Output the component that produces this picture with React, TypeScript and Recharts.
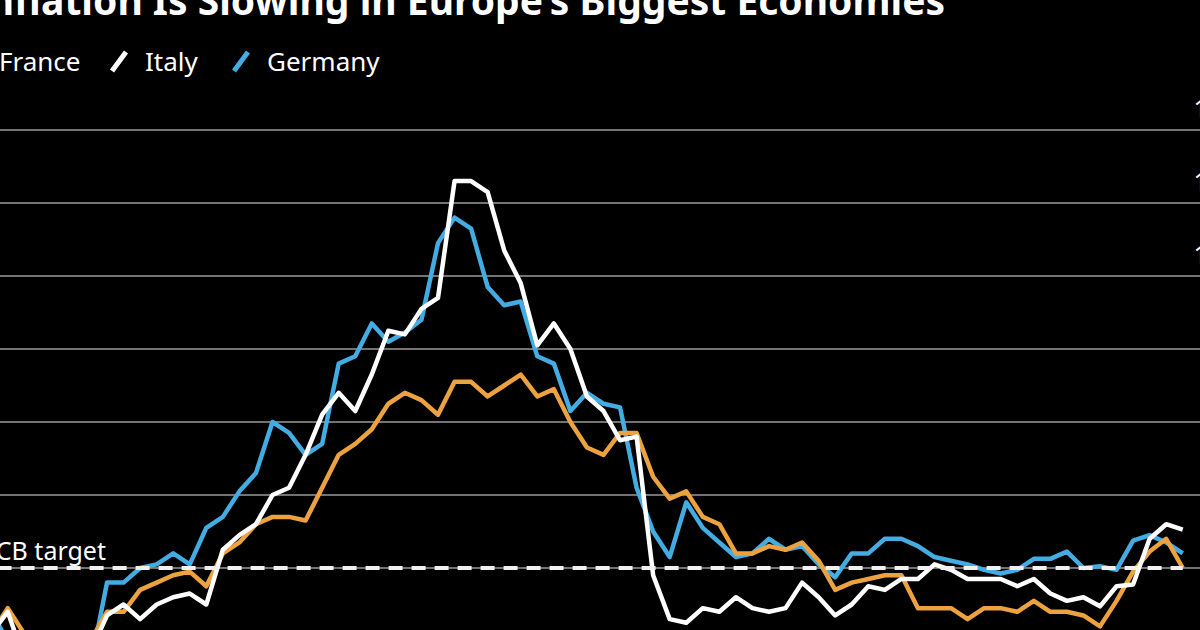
import React from 'react';
import { LineChart, Line, XAxis, YAxis, CartesianGrid, ReferenceLine } from 'recharts';

const months = [
  'Jun 2020', 'Jul 2020', 'Aug 2020', 'Sep 2020', 'Oct 2020', 'Nov 2020', 'Dec 2020',
  'Jan 2021', 'Feb 2021', 'Mar 2021', 'Apr 2021', 'May 2021', 'Jun 2021', 'Jul 2021', 'Aug 2021', 'Sep 2021', 'Oct 2021', 'Nov 2021', 'Dec 2021',
  'Jan 2022', 'Feb 2022', 'Mar 2022', 'Apr 2022', 'May 2022', 'Jun 2022', 'Jul 2022', 'Aug 2022', 'Sep 2022', 'Oct 2022', 'Nov 2022', 'Dec 2022',
  'Jan 2023', 'Feb 2023', 'Mar 2023', 'Apr 2023', 'May 2023', 'Jun 2023', 'Jul 2023', 'Aug 2023', 'Sep 2023', 'Oct 2023', 'Nov 2023', 'Dec 2023',
  'Jan 2024', 'Feb 2024', 'Mar 2024', 'Apr 2024', 'May 2024', 'Jun 2024', 'Jul 2024', 'Aug 2024', 'Sep 2024', 'Oct 2024', 'Nov 2024', 'Dec 2024',
  'Jan 2025', 'Feb 2025', 'Mar 2025', 'Apr 2025', 'May 2025', 'Jun 2025', 'Jul 2025', 'Aug 2025', 'Sep 2025', 'Oct 2025', 'Nov 2025', 'Dec 2025',
  'Jan 2026', 'Feb 2026', 'Mar 2026', 'Apr 2026', 'May 2026', 'Jun 2026',
];

const france = [
  0.2, 0.9, 0.2, 0.0, 0.1, 0.2, 0.0,
  0.8, 0.8, 1.4, 1.6, 1.8, 1.9, 1.5, 2.4, 2.7, 3.2, 3.4, 3.4,
  3.3, 4.2, 5.1, 5.4, 5.8, 6.5, 6.8, 6.6, 6.2, 7.1, 7.1, 6.7,
  7.0, 7.3, 6.7, 6.9, 6.0, 5.3, 5.1, 5.7, 5.7, 4.5, 3.9, 4.1,
  3.4, 3.2, 2.4, 2.4, 2.6, 2.5, 2.7, 2.2, 1.4, 1.6, 1.7, 1.8,
  1.8, 0.9, 0.9, 0.9, 0.6, 0.9, 0.9, 0.8, 1.1, 0.8, 0.8, 0.7,
  0.4, 1.1, 1.9, 2.45, 2.8, 2.0,
];

const italy = [
  0.2, 0.8, -0.5, -1.0, -0.6, -0.3, -0.3,
  0.7, 1.0, 0.6, 1.0, 1.2, 1.3, 1.0, 2.5, 2.9, 3.2, 4.0, 4.2,
  5.1, 6.2, 6.8, 6.3, 7.3, 8.5, 8.4, 9.1, 9.4, 12.6, 12.6, 12.3,
  10.7, 9.8, 8.1, 8.7, 8.0, 6.7, 6.3, 5.5, 5.6, 1.8, 0.6, 0.5,
  0.9, 0.8, 1.2, 0.9, 0.8, 0.9, 1.6, 1.2, 0.7, 1.0, 1.5, 1.4,
  1.7, 1.7, 2.1, 1.95, 1.7, 1.7, 1.7, 1.5, 1.7, 1.3, 1.1, 1.2,
  0.95, 1.5, 1.55, 2.8, 3.2, 3.05,
];

const germany = [
  0.8, 0.0, -0.1, -0.4, -0.5, -0.7, -0.7,
  1.6, 1.6, 2.0, 2.1, 2.4, 2.1, 3.1, 3.4, 4.1, 4.6, 6.0, 5.7,
  5.1, 5.4, 7.6, 7.8, 8.7, 8.2, 8.45, 8.8, 10.9, 11.6, 11.3, 9.7,
  9.2, 9.3, 7.8, 7.6, 6.3, 6.8, 6.5, 6.4, 4.2, 3.0, 2.3, 3.8,
  3.1, 2.7, 2.3, 2.4, 2.8, 2.5, 2.6, 2.1, 1.75, 2.4, 2.4, 2.8,
  2.8, 2.6, 2.3, 2.2, 2.1, 1.95, 1.85, 1.95, 2.25, 2.25, 2.45, 2.0,
  2.05, 1.95, 2.75, 2.9, 2.7, 2.4,
];

const yTicks = [0, 2, 4, 6, 8, 10, 12, 14];
const ecbTarget = 2;
const seriesNames = ['France', 'Italy', 'Germany'];
const seriesColors = ['#eca23f', '#ffffff', '#43ace2'];
const titleText = 'Inflation Is Slowing in Europe\u2019s Biggest Economies';
const ecbLabel = 'ECB target';

const data = months.map((m, i) => ({
  i,
  month: m,
  France: france[i],
  Italy: italy[i],
  Germany: germany[i],
}));

const FONT = '"Noto Sans", "Open Sans", Arial, sans-serif';
const CHART_LEFT = -60;
const LABEL_RIGHT = 1222; // screen x of right edge of y labels

const RightTick = (props: any) => {
  const { y, payload } = props;
  return (
    <text
      x={LABEL_RIGHT - CHART_LEFT}
      y={y - 12}
      textAnchor="end"
      fill="#ffffff"
      fontSize={25}
      fontFamily={FONT}
    >
      {payload.value}
    </text>
  );
};

const legendX = [-1, 145, 267];

export default function App() {
  return (
    <div
      style={{
        position: 'fixed',
        left: 0,
        top: 0,
        width: 1200,
        height: 630,
        overflow: 'hidden',
        background: '#000000',
      }}
    >
      <div style={{ position: 'absolute', left: CHART_LEFT, top: 0 }}>
        <LineChart
          width={1335.85}
          height={720}
          data={data}
          margin={{ top: 130, right: 0, left: 34.6, bottom: 6 }}
        >
          <CartesianGrid vertical={false} stroke="#737373" strokeWidth={2} />
          <XAxis dataKey="i" type="number" domain={[-1, 74]} hide />
          <YAxis
            orientation="right"
            width={60}
            domain={[-2, 14]}
            ticks={yTicks}
            axisLine={false}
            tickLine={false}
            tick={<RightTick />}
            interval={0}
          />
          <Line
            type="linear"
            dataKey="Germany"
            stroke={seriesColors[2]}
            strokeWidth={4.5}
            dot={false}
            isAnimationActive={false}
            strokeLinejoin="round"
          />
          <Line
            type="linear"
            dataKey="France"
            stroke={seriesColors[0]}
            strokeWidth={4.5}
            dot={false}
            isAnimationActive={false}
            strokeLinejoin="round"
          />
          <Line
            type="linear"
            dataKey="Italy"
            stroke={seriesColors[1]}
            strokeWidth={4.5}
            dot={false}
            isAnimationActive={false}
            strokeLinejoin="round"
          />
          <ReferenceLine
            segment={[
              { x: -1, y: ecbTarget },
              { x: data.length - 1, y: ecbTarget },
            ]}
            stroke="#f0f0f0"
            strokeWidth={4}
            strokeDasharray="14 9"
          />
        </LineChart>
      </div>
      <svg
        width={1200}
        height={630}
        style={{ position: 'absolute', left: 0, top: 0, pointerEvents: 'none' }}
      >
        <text x={945} y={15} textAnchor="end" fill="#ffffff" fontSize={39} fontWeight={700} fontFamily={FONT}>
          {titleText}
        </text>
        {seriesNames.map((name, k) => (
          <g key={name}>
            <line
              x1={legendX[k] - 33}
              y1={71}
              x2={legendX[k] - 19}
              y2={52}
              stroke={seriesColors[k]}
              strokeWidth={5}
            />
            <text x={legendX[k]} y={71} fill="#ffffff" fontSize={26} fontFamily={FONT}>
              {name}
            </text>
          </g>
        ))}
        <text x={106} y={560} textAnchor="end" fill="#ffffff" fontSize={25} fontFamily={FONT}>
          {ecbLabel}
        </text>
      </svg>
    </div>
  );
}
